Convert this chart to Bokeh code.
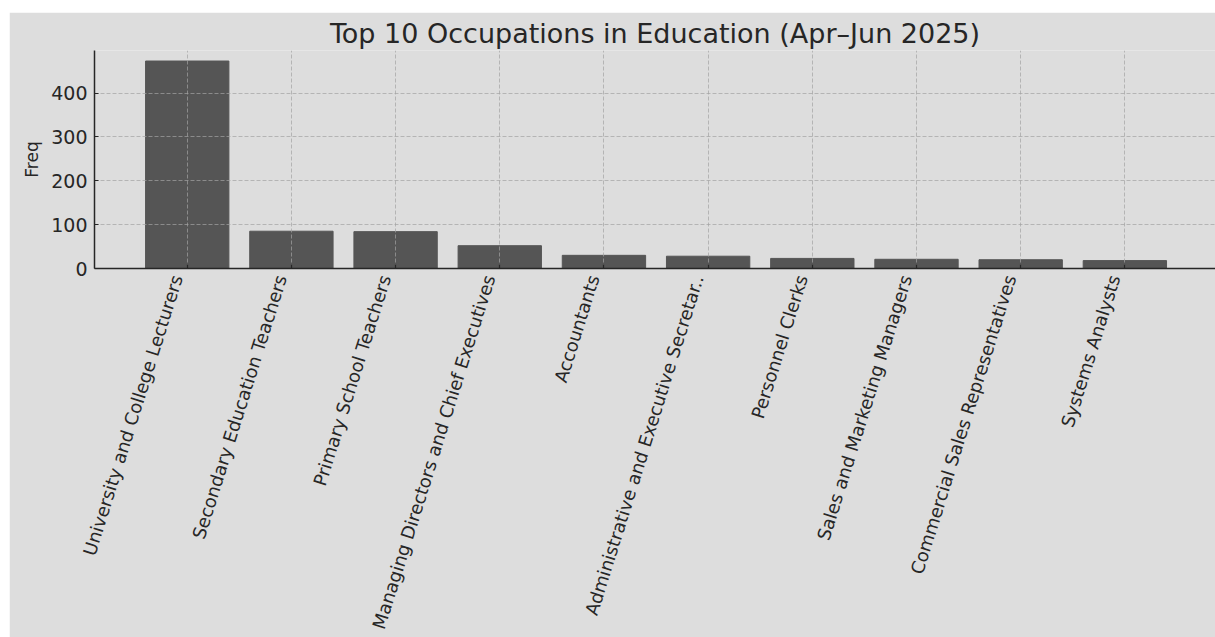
import math
from bokeh.plotting import figure
from bokeh.models import Range1d, FixedTicker, Spacer
from bokeh.layouts import column, row
from bokeh.embed import file_html
from bokeh.resources import INLINE

occupations = [
    "University and College Lecturers",
    "Secondary Education Teachers",
    "Primary School Teachers",
    "Managing Directors and Chief Executives",
    "Accountants",
    "Administrative and Executive Secretar..",
    "Personnel Clerks",
    "Sales and Marketing Managers",
    "Commercial Sales Representatives",
    "Systems Analysts",
]
freq = [473, 85, 84, 52, 30, 28, 23, 21, 20, 18]
y_ticks = [0, 100, 200, 300, 400]
title_text = "Top 10 Occupations in Education (Apr\u2013Jun 2025)"
y_label = "Freq"

positions = list(range(len(occupations)))
FONT = "DejaVu Sans"
TXT = "#262626"

p = figure(
    width=1206, height=625,
    output_backend="svg", toolbar_location=None,
    x_range=Range1d(-0.89, 9.87), y_range=Range1d(0, 497),
    min_border_left=85, min_border_right=0, min_border_top=38, min_border_bottom=369,
    background_fill_color="#dddddd", border_fill_color="#dddddd",
    outline_line_color=None, title=title_text,
)

bars = p.vbar(x=positions, top=freq, width=0.8,
              fill_color="#555555", line_color="#555555", line_width=1)
bars.level = "underlay"

p.title.text_font = FONT
p.title.text_font_size = "27px"
p.title.text_font_style = "normal"
p.title.text_color = TXT
p.title.align = "center"
p.title.standoff = 4

# x axis: rotated names right-aligned just left of each bar centre (major ticks,
# unmarked); the visible inward tick marks sit at the bar centres (minor ticks)
label_ticks = [x - 0.1 for x in positions]
p.xaxis.ticker = FixedTicker(ticks=label_ticks, minor_ticks=positions)
p.xaxis.major_label_overrides = {t: n for t, n in zip(label_ticks, occupations)}
p.xaxis.major_label_orientation = math.radians(72.5)
p.xaxis.major_label_text_font = FONT
p.xaxis.major_label_text_font_size = "18px"
p.xaxis.major_label_text_color = TXT
p.xaxis.major_label_standoff = 7
p.xaxis.major_tick_line_color = None
p.xaxis.major_tick_in = 0
p.xaxis.major_tick_out = 0
p.xaxis.minor_tick_line_color = "#262626"
p.xaxis.minor_tick_line_width = 1.2
p.xaxis.minor_tick_in = 4
p.xaxis.minor_tick_out = 0
p.xaxis.axis_line_color = "#262626"
p.xaxis.axis_line_width = 1.5

# y axis
p.yaxis.ticker = FixedTicker(ticks=y_ticks)
p.yaxis.axis_label = y_label
p.yaxis.axis_label_text_font = FONT
p.yaxis.axis_label_text_font_size = "17px"
p.yaxis.axis_label_text_font_style = "normal"
p.yaxis.axis_label_text_color = TXT
p.yaxis.axis_label_standoff = 6
p.yaxis.major_label_text_font = FONT
p.yaxis.major_label_text_font_size = "19px"
p.yaxis.major_label_text_color = TXT
p.yaxis.major_label_standoff = 7
p.yaxis.major_tick_in = 4
p.yaxis.major_tick_out = 0
p.yaxis.minor_tick_line_color = None
p.yaxis.major_tick_line_color = "#262626"
p.yaxis.axis_line_color = "#262626"
p.yaxis.axis_line_width = 1.5

# grids (drawn above bars, as in the reference)
p.xgrid.ticker = FixedTicker(ticks=positions)
p.ygrid.ticker = FixedTicker(ticks=y_ticks)
for g in (p.xgrid[0], p.ygrid[0]):
    g.grid_line_color = "#a2a2a2"
    g.grid_line_alpha = 0.7
    g.grid_line_dash = "4 2"
    g.grid_line_width = 1
    g.level = "glyph"

layout = column(Spacer(width=1215, height=12),
                row(Spacer(width=9, height=625), p, spacing=0),
                spacing=0)
open("out.html", "w").write(file_html(layout, INLINE))
